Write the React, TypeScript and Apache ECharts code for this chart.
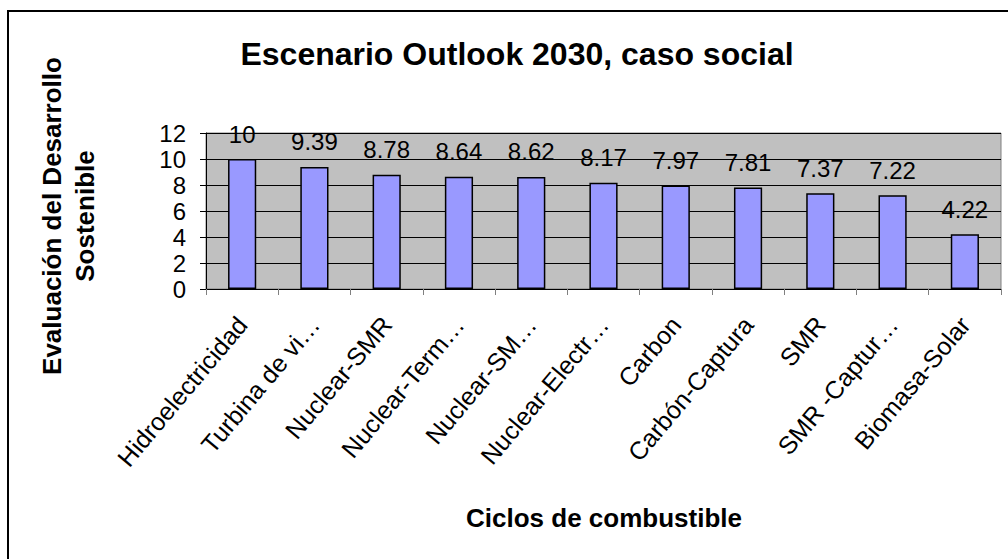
import React, { useEffect, useRef } from "react";
import * as echarts from "echarts";

const titleText = "Escenario Outlook 2030, caso social";
const yAxisTitle = "Evaluación del Desarrollo\nSostenible";
const xAxisTitle = "Ciclos de combustible";
const categories = [
  "Hidroelectricidad",
  "Turbina de vi…",
  "Nuclear-SMR",
  "Nuclear-Term…",
  "Nuclear-SM…",
  "Nuclear-Electr…",
  "Carbon",
  "Carbón-Captura",
  "SMR",
  "SMR -Captur…",
  "Biomasa-Solar",
];
const values = [10, 9.39, 8.78, 8.64, 8.62, 8.17, 7.97, 7.81, 7.37, 7.22, 4.22];
const yTicks = [0, 2, 4, 6, 8, 10, 12];

const FONT = "'Liberation Sans', Arial, sans-serif";

export default function App() {
  const ref = useRef<HTMLDivElement>(null);
  useEffect(() => {
    if (!ref.current) return;
    const chart = echarts.init(ref.current, null, { renderer: "svg" });
    chart.setOption({
      animation: false,
      backgroundColor: "#ffffff",
      textStyle: { fontFamily: FONT, color: "#000" },
      grid: {
        left: 206,
        right: 7,
        top: 133,
        bottom: 270,
        show: true,
        backgroundColor: "#C0C0C0",
        borderColor: "#808080",
        borderWidth: 1,
      },
      xAxis: {
        type: "category",
        data: categories,
        axisLine: { show: true, lineStyle: { color: "#000", width: 1 } },
        axisTick: { show: true, length: 6, lineStyle: { color: "#808080" } },
        axisLabel: {
          interval: 0,
          rotate: 50,
          margin: 31,
          fontSize: 25,
          color: "#000",
          fontFamily: FONT,
        },
      },
      yAxis: {
        type: "value",
        min: yTicks[0],
        max: yTicks[yTicks.length - 1],
        interval: 2,
        axisLine: { show: true, lineStyle: { color: "#000", width: 1 } },
        axisTick: { show: true, length: 6, lineStyle: { color: "#000" } },
        axisLabel: { fontSize: 24, color: "#000", margin: 20, fontFamily: FONT },
        splitLine: { show: true, lineStyle: { color: "#000", width: 1 } },
      },
      series: [
        {
          type: "bar",
          data: values,
          barWidth: "39%",
          itemStyle: { color: "#9999FF", borderColor: "#000", borderWidth: 1.5 },
          label: {
            show: true,
            position: "top",
            distance: 13,
            fontSize: 24,
            color: "#000",
            fontFamily: FONT,
          },
        },
      ],
      graphic: [
        {
          type: "rect",
          shape: { x: 8, y: 11, width: 1100, height: 1000 },
          style: { fill: "none", stroke: "#000", lineWidth: 2 },
          silent: true,
        },
        {
          type: "text",
          x: 517,
          y: 54,
          style: {
            text: titleText,
            textAlign: "center",
            textVerticalAlign: "middle",
            font: `bold 32px ${FONT}`,
            fill: "#000",
          },
        },
        {
          type: "text",
          x: 68,
          y: 216,
          rotation: Math.PI / 2,
          style: {
            text: yAxisTitle,
            textAlign: "center",
            textVerticalAlign: "middle",
            font: `bold 26px ${FONT}`,
            lineHeight: 33,
            fill: "#000",
          },
        },
        {
          type: "text",
          x: 604,
          y: 518,
          style: {
            text: xAxisTitle,
            textAlign: "center",
            textVerticalAlign: "middle",
            font: `bold 26px ${FONT}`,
            fill: "#000",
          },
        },
      ],
    });
    return () => chart.dispose();
  }, []);
  return (
    <div
      ref={ref}
      style={{ position: "fixed", left: 0, top: 0, width: 1008, height: 559 }}
    />
  );
}
